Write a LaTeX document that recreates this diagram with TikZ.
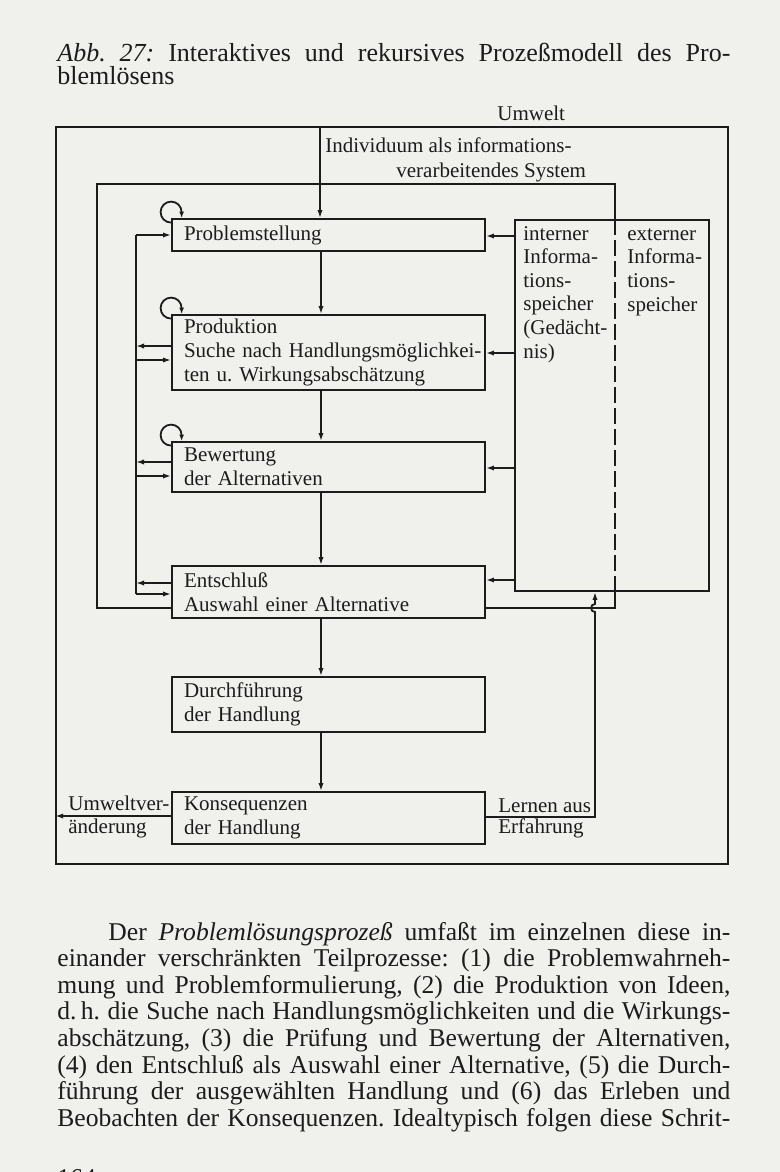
\documentclass[tikz,border=0pt]{standalone}
\usepackage{fontspec}
\setmainfont{Liberation Serif}
\usetikzlibrary{arrows.meta,calc}
\definecolor{paper}{RGB}{240,240,237}
\definecolor{ink}{RGB}{28,28,28}
\newcommand{\diafont}{\fontsize{10.5}{12}\selectfont}
\newcommand{\memfont}{\fontsize{10.5}{11.8}\selectfont}
\newcommand{\capfont}{\fontsize{13}{11.5}\selectfont}
\newcommand{\bodyfont}{\fontsize{12.8}{13.33}\selectfont}
\begin{document}
\frenchspacing
\begin{tikzpicture}[x=0.5pt,y=-0.5pt,
  every node/.style={text=ink},
  ln/.style={draw=ink,line width=0.9pt},
  arr/.style={ln,-{Latex[length=4pt,width=2.6pt]}},
  looparr/.style={ln,-{Latex[length=3.2pt,width=2.4pt]}},
  mbox/.style={ln,fill=paper,minimum width=156.5pt,text width=144.5pt,
               inner xsep=6pt,inner ysep=0pt,align=left,font=\diafont},
  lbl/.style={inner sep=0pt,anchor=base west,font=\diafont,align=left},
  frame/.style={ln,inner sep=0pt}
]
\fill[paper] (0,0) rectangle (780,1172);
\useasboundingbox (0,0) rectangle (780,1172);

% caption
\node[anchor=base west,inner sep=0pt,text width=336.5pt,align=justify,font=\capfont] (cap) at (57,62)
 {\tolerance=10000 \hyphenpenalty=10000 \textit{Abb.\ 27:} Interaktives und rekursives Prozeßmodell des Pro-\linebreak blemlösens};

% environment frame
\node[frame,minimum width=336pt,minimum height=368.5pt] (env) at (392,495.5) {};
\node[lbl] (umwelt) at (497,120) {Umwelt};

% individual system frame (right side dashed inside memory box)
\node[frame,minimum width=97pt,minimum height=185.5pt] (mem) at (612,405.5) {};
\coordinate (dx) at (615,0);
\draw[ln] (dx |- mem.north) -- (615,184) -- (97,184) -- (97,608) -- (615,608) -- (dx |- mem.south);
\draw[ln,dash pattern=on 8pt off 2.5pt] (dx |- mem.north) -- (dx |- mem.south);
\node[lbl] (indiv1) at (325,152) {Individuum als informations-};
\node[lbl] (indiv2) at (396,177) {verarbeitendes System};

% memory labels (anchored at the baseline of their last line)
\node[lbl,font=\memfont] (intern) at (523,358) {interner\\Informa-\\tions-\\speicher\\(Gedächt-\\nis)};
\node[lbl,font=\memfont] (extern) at (627,311) {externer\\Informa-\\tions-\\speicher};

% process boxes
\node[mbox,minimum height=16pt]   (p1) at (328.5,235)   {Problemstellung};
\node[mbox,minimum height=37.5pt] (p2) at (328.5,352.5) {Produktion\\\mbox{Suche nach Handlungsmöglichkei-}\\ten u. Wirkungsabschätzung};
\node[mbox,minimum height=25pt]   (p3) at (328.5,467)   {Bewertung\\der Alternativen};
\node[mbox,minimum height=26pt]   (p4) at (328.5,592)   {Entschluß\\Auswahl einer Alternative};
\node[mbox,minimum height=27.5pt] (p5) at (328.5,704.5) {Durchführung\\der Handlung};
\node[mbox,minimum height=26pt]   (p6) at (328.5,818)   {Konsequenzen\\der Handlung};

% input from environment
\coordinate (topin) at (320,127);
\draw[arr] (topin) -- (topin |- p1.north);

% main chain
\coordinate (vx) at (321,0);
\draw[arr] (vx |- p1.south) -- (vx |- p2.north);
\draw[arr] (vx |- p2.south) -- (vx |- p3.north);
\draw[arr] (vx |- p3.south) -- (vx |- p4.north);
\draw[arr] (vx |- p4.south) -- (vx |- p5.north);
\draw[arr] (vx |- p5.south) -- (vx |- p6.north);

% self loops
\foreach \b in {p1,p2,p3}
  \draw[looparr] ([yshift=-2.25pt]\b.north west) arc[start angle=-90,end angle=-360,radius=5.25pt]
     -- ([xshift=5.25pt]\b.north west);

% left feedback loop
\coordinate (lx) at (136,0);
\draw[ln] (lx |- p1.west) -- (lx |- 0,594);
\draw[arr] (lx |- p1.west) -- (p1.west);
\draw[arr] (p2.west |- 0,346) -- (lx |- 0,346);
\draw[arr] (lx |- 0,360) -- (p2.west |- 0,360);
\draw[arr] (p3.west |- 0,462) -- (lx |- 0,462);
\draw[arr] (lx |- 0,476) -- (p3.west |- 0,476);
\draw[arr] (p4.west |- 0,583) -- (lx |- 0,583);
\draw[arr] (lx |- 0,594) -- (p4.west |- 0,594);

% memory to process steps
\draw[arr] (mem.west |- 0,236) -- (p1.east |- 0,236);
\draw[arr] (mem.west |- 0,353) -- (p2.east |- 0,353);
\draw[arr] (mem.west |- 0,468) -- (p3.east |- 0,468);
\draw[arr] (mem.west |- 0,580) -- (p4.east |- 0,580);

% consequences
\draw[arr] (p6.west |- 0,816) -- (env.west |- 0,816);
\node[lbl] (uv1) at (68,810) {Umweltver-};
\node[lbl] (uv2) at (68,833) {änderung};
\draw[arr] (p6.east |- 0,817) -- (595,817) -- (595,612)
   arc[start angle=-90,end angle=-270,radius=2pt] -- (mem.south -| 595,0);
\node[lbl] (le1) at (498,812) {Lernen aus};
\node[lbl] (le2) at (498,833) {Erfahrung};

% body text
\node[anchor=base west,inner sep=0pt,text width=336.5pt,align=justify,font=\bodyfont] (body) at (57,940)
 {\tolerance=10000 \hyphenpenalty=10000 \parfillskip=0pt
  \hspace*{25.5pt}Der \textit{Problemlösungsprozeß} umfaßt im einzelnen diese in-\linebreak
  einander verschränkten Teilprozesse: (1) die Problemwahrneh-\linebreak
  mung und Problemformulierung, (2) die Produktion von Ideen,\linebreak
  d.\,h. die Suche nach Handlungsmöglichkeiten und die Wirkungs-\linebreak
  abschätzung, (3) die Prüfung und Bewertung der Alternativen,\linebreak
  (4) den Entschluß als Auswahl einer Alternative, (5) die Durch-\linebreak
  führung der ausgewählten Handlung und (6) das Erleben und\linebreak
  Beobachten der Konsequenzen. Idealtypisch folgen diese Schrit-};

% page number (cut off at the page edge, as in the scan)
\begin{scope}
\clip (0,0) rectangle (780,1172);
\node[anchor=base west,inner sep=0pt,font=\bodyfont] (pg) at (57,1186) {164};
\end{scope}
\end{tikzpicture}
\end{document}
